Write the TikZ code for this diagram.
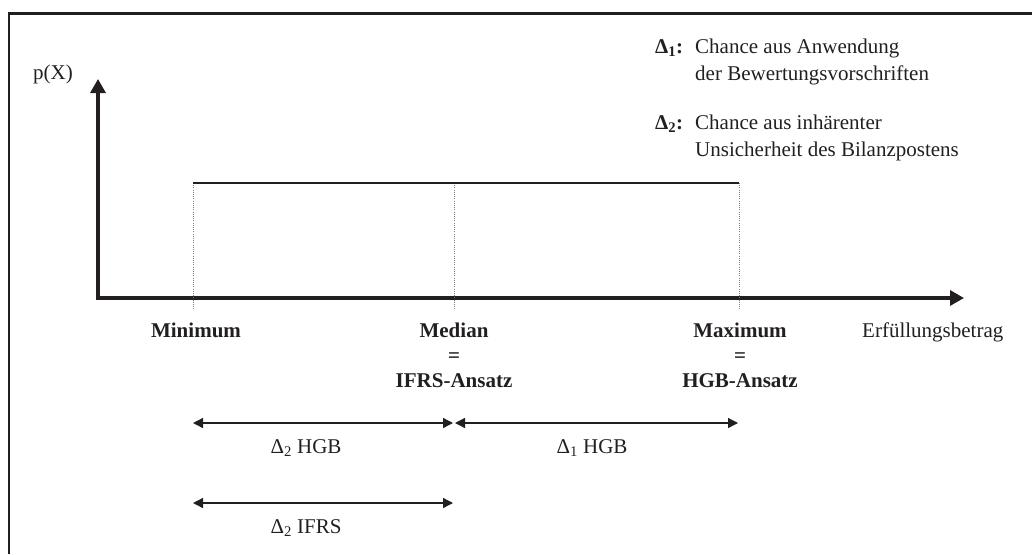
\documentclass[tikz,border=0pt]{standalone}
\usepackage{fontspec}
\setmainfont{Liberation Serif}
\usetikzlibrary{arrows.meta}
\definecolor{ink}{RGB}{35,31,32}
\definecolor{guide}{RGB}{125,125,125}
\begin{document}
\begin{tikzpicture}[x=1pt,y=-1pt,
  every node/.style={inner sep=0pt, text=ink, font=\fontsize{21}{25}\selectfont},
  frameline/.style={draw=ink, line width=2.4pt},
  axis/.style={draw=ink, line width=3.2pt, line join=miter,
    {Triangle[length=14pt,width=15pt]}-{Triangle[length=14pt,width=15pt]}},
  density/.style={draw=ink, line width=1.8pt},
  guideline/.style={draw=guide, line width=0.8pt, dash pattern=on 1pt off 1.2pt},
  span/.style={draw=ink, line width=1.3pt,
    {Triangle[length=10pt,width=10pt]}-{Triangle[length=10pt,width=10pt]}},
  point/.style={anchor=base, font=\fontsize{21}{25}\selectfont\bfseries},
  spantext/.style={anchor=base},
  legendtext/.style={anchor=base west}]
\useasboundingbox (0,0) rectangle (1032,554);

% outer frame (left and top edges)
\coordinate (frameBL) at (8.7,554);
\coordinate (frameTL) at (8.7,13.5);
\coordinate (frameTR) at (1032,13.5);
\draw[frameline] (frameBL) -- (frameTL) -- (frameTR);

% axes
\coordinate (origin) at (98,298);
\coordinate (ytip) at (98,79);
\coordinate (xtip) at (964,298);
\draw[axis] (ytip) -- (origin) -- (xtip);
\node[anchor=base west] (ylab) at (33,79) {p(X)};
\node[anchor=base west] (xlab) at (862,337) {Erfüllungsbetrag};

% guide lines down to the axis
\coordinate (minTop) at (193,183);
\coordinate (medTop) at (454,183);
\coordinate (maxTop) at (739,183);
\coordinate (minBot) at (193,309);
\coordinate (medBot) at (454,309);
\coordinate (maxBot) at (739,309);
\draw[guideline] (minTop) -- (minBot);
\draw[guideline] (medTop) -- (medBot);
\draw[guideline] (maxTop) -- (maxBot);

% uniform density
\draw[density] (minTop) -- (maxTop);

% points on the axis
\node[point] (minimum) at (196,337) {Minimum};
\node[point] (median) at (454,337) {Median};
\node[point] (medeq) at (454,362) {=};
\node[point] (ifrs) at (454,387) {IFRS-Ansatz};
\node[point] (maximum) at (740,337) {Maximum};
\node[point] (maxeq) at (740,362) {=};
\node[point] (hgb) at (740,387) {HGB-Ansatz};

% spans
\coordinate (s1a) at (193,423);
\coordinate (s1b) at (453,423);
\coordinate (s2a) at (455,423);
\coordinate (s2b) at (738,423);
\coordinate (s3a) at (193,503);
\coordinate (s3b) at (453,503);
\draw[span] (s1a) -- (s1b);
\draw[span] (s2a) -- (s2b);
\draw[span] (s3a) -- (s3b);
\node[spantext] (d2hgb) at (306,453) {Δ\textsubscript{2} HGB};
\node[spantext] (d1hgb) at (592,453) {Δ\textsubscript{1} HGB};
\node[spantext] (d2ifrs) at (306,533) {Δ\textsubscript{2} IFRS};

% legend
\node[legendtext, font=\fontsize{21}{25}\selectfont\bfseries] (key1) at (655,53) {Δ\textsubscript{1}:};
\node[legendtext] (key1a) at (695,53) {Chance aus Anwendung};
\node[legendtext] (key1b) at (695,80) {der Bewertungsvorschriften};
\node[legendtext, font=\fontsize{21}{25}\selectfont\bfseries] (key2) at (655,129) {Δ\textsubscript{2}:};
\node[legendtext] (key2a) at (695,129) {Chance aus inhärenter};
\node[legendtext] (key2b) at (695,156) {Unsicherheit des Bilanzpostens};
\end{tikzpicture}
\end{document}
